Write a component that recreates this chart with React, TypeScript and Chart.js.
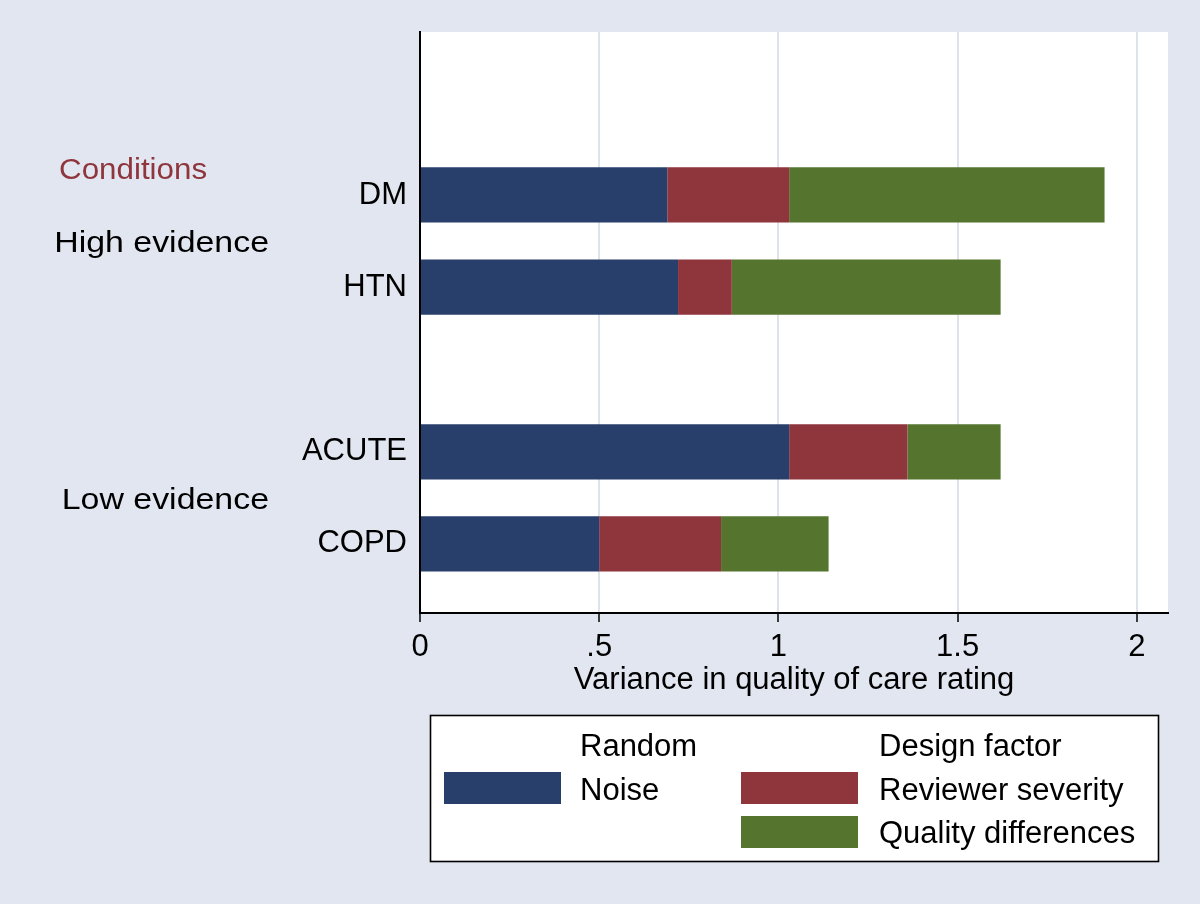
import React, { useEffect, useRef } from "react";
import { Chart, registerables } from "chart.js";

Chart.register(...registerables);

const conditions = ["DM", "HTN", "ACUTE", "COPD"];
const conditionGroup = [0, 0, 1, 1];
const groupNames = ["High evidence", "Low evidence"];
const noise = [0.69, 0.72, 1.03, 0.5];
const reviewerSeverity = [0.34, 0.15, 0.33, 0.34];
const qualityDifferences = [0.88, 0.75, 0.26, 0.3];
const xTicks = [0, 0.5, 1, 1.5, 2];
const seriesLabels = ["Noise", "Reviewer severity", "Quality differences"];
const legendHeaders = ["Random", "Design factor"];
const yTitle = "Conditions";
const xTitle = "Variance in quality of care rating";

const FONT = "'Liberation Sans', Arial, Helvetica, sans-serif";
const NAVY = "#283f6c";
const MAROON = "#8f353c";
const GREEN = "#55752f";
const BG = "#e2e6f0";
const GRID = "#dde2eb";

// layout of rows: one slot per condition, extra gap between groups
const GROUP_GAP = 0.79;
const positions = conditions.map((_, i) => i + conditionGroup[i] * GROUP_GAP);
const Y_MIN = positions[0] - 1.77;
const Y_MAX = positions[positions.length - 1] + 0.75;
const X_MAX = 2.087;

function fmtTick(v: number) {
  if (v === 0) return "0";
  return String(v).replace(/^0\./, ".");
}

const bgPlugin = {
  id: "bgPlugin",
  beforeDraw(chart: any) {
    const { ctx, chartArea } = chart;
    ctx.save();
    ctx.fillStyle = BG;
    ctx.fillRect(0, 0, chart.width, chart.height);
    ctx.fillStyle = "#ffffff";
    ctx.fillRect(chartArea.left, chartArea.top, chartArea.right - chartArea.left, chartArea.bottom - chartArea.top);
    ctx.restore();
  },
};

const textPlugin = {
  id: "textPlugin",
  afterDraw(chart: any) {
    const { ctx } = chart;
    const yScale = chart.scales.y;
    ctx.save();
    // y title
    ctx.font = `30px ${FONT}`;
    ctx.fillStyle = MAROON;
    ctx.textAlign = "left";
    ctx.textBaseline = "alphabetic";
    ctx.save();
    ctx.translate(59, 179);
    ctx.scale(1.045, 1);
    ctx.fillText(yTitle, 0, 0);
    ctx.restore();
    // group labels
    ctx.fillStyle = "#000000";
    ctx.textAlign = "right";
    ctx.textBaseline = "middle";
    groupNames.forEach((g, gi) => {
      const ps = positions.filter((_, i) => conditionGroup[i] === gi);
      const mid = (ps[0] + ps[ps.length - 1]) / 2;
      const y = yScale.getPixelForValue(mid) + 3;
      ctx.save();
      ctx.translate(269, y);
      ctx.scale(1.13, 1);
      ctx.fillText(g, 0, 0);
      ctx.restore();
    });

    // legend
    const ds = chart.data.datasets;
    const bx = 430.5, by = 715.5, bw = 728, bh = 146;
    ctx.fillStyle = "#ffffff";
    ctx.fillRect(bx, by, bw, bh);
    ctx.strokeStyle = "#000000";
    ctx.lineWidth = 1.6;
    ctx.strokeRect(bx, by, bw, bh);
    ctx.font = `31px ${FONT}`;
    ctx.textAlign = "left";
    ctx.textBaseline = "alphabetic";
    ctx.fillStyle = "#000000";
    ctx.fillText(legendHeaders[0], 580, 756);
    ctx.fillText(legendHeaders[1], 879, 756);
    const items = [
      { sx: 444, sy: 772, tx: 580, ty: 800, d: 0 },
      { sx: 741, sy: 772, tx: 879, ty: 800, d: 1 },
      { sx: 741, sy: 816, tx: 879, ty: 843, d: 2 },
    ];
    items.forEach((it) => {
      ctx.fillStyle = ds[it.d].backgroundColor;
      ctx.fillRect(it.sx, it.sy, 117, 32);
      ctx.fillStyle = "#000000";
      ctx.fillText(ds[it.d].label, it.tx, it.ty);
    });
    ctx.restore();
  },
};

export default function App() {
  const ref = useRef<HTMLCanvasElement | null>(null);

  useEffect(() => {
    if (!ref.current) return;
    Chart.defaults.font.family = FONT;
    const mk = (vals: number[]) => vals.map((v, i) => ({ x: v, y: positions[i] }));
    const chart = new Chart(ref.current, {
      type: "bar",
      data: {
        datasets: [
          { label: seriesLabels[0], data: mk(noise), backgroundColor: NAVY },
          { label: seriesLabels[1], data: mk(reviewerSeverity), backgroundColor: MAROON },
          { label: seriesLabels[2], data: mk(qualityDifferences), backgroundColor: GREEN },
        ] as any,
      },
      options: {
        indexAxis: "y",
        responsive: false,
        animation: false,
        layout: { padding: { left: 0, top: 32, right: 32, bottom: 201 } },
        datasets: { bar: { barPercentage: 0.6, categoryPercentage: 1, borderWidth: 0 } } as any,
        plugins: { legend: { display: false }, tooltip: { enabled: false } },
        scales: {
          x: {
            type: "linear",
            stacked: true,
            offset: false,
            min: 0,
            max: X_MAX,
            afterBuildTicks: (scale: any) => {
              scale.ticks = xTicks.map((v) => ({ value: v }));
            },
            afterFit: (scale: any) => {
              scale.height = 90;
            },
            ticks: {
              includeBounds: false,
              color: "#000",
              font: { size: 31 },
              padding: 7,
              callback: (v: any) => fmtTick(Number(v)),
            },
            grid: {
              color: GRID,
              lineWidth: 2,
              tickColor: "#000",
              tickWidth: 1.5,
              tickLength: 9,
            },
            border: { color: "#000", width: 2 },
            title: {
              display: true,
              text: xTitle,
              color: "#000",
              font: { size: 31 },
              padding: { top: 4, bottom: 4 },
            },
          },
          y: {
            type: "linear",
            stacked: true,
            reverse: true,
            offset: false,
            min: Y_MIN,
            max: Y_MAX,
            afterBuildTicks: (scale: any) => {
              scale.ticks = positions.map((v) => ({ value: v }));
            },
            afterFit: (scale: any) => {
              scale.width = 420;
            },
            ticks: {
              color: "#000",
              font: { size: 31 },
              padding: 13,
              callback: (v: any) => {
                const idx = positions.findIndex((p) => Math.abs(p - Number(v)) < 1e-6);
                return idx >= 0 ? conditions[idx] : "";
              },
            },
            grid: { drawOnChartArea: false, drawTicks: false },
            border: { color: "#000", width: 2 },
          },
        },
      } as any,
      plugins: [bgPlugin, textPlugin],
    });
    return () => chart.destroy();
  }, []);

  return (
    <div style={{ position: "fixed", left: 0, top: 0, width: 1200, height: 904 }}>
      <canvas ref={ref} width={1200} height={904} style={{ width: 1200, height: 904, display: "block" }} />
    </div>
  );
}
